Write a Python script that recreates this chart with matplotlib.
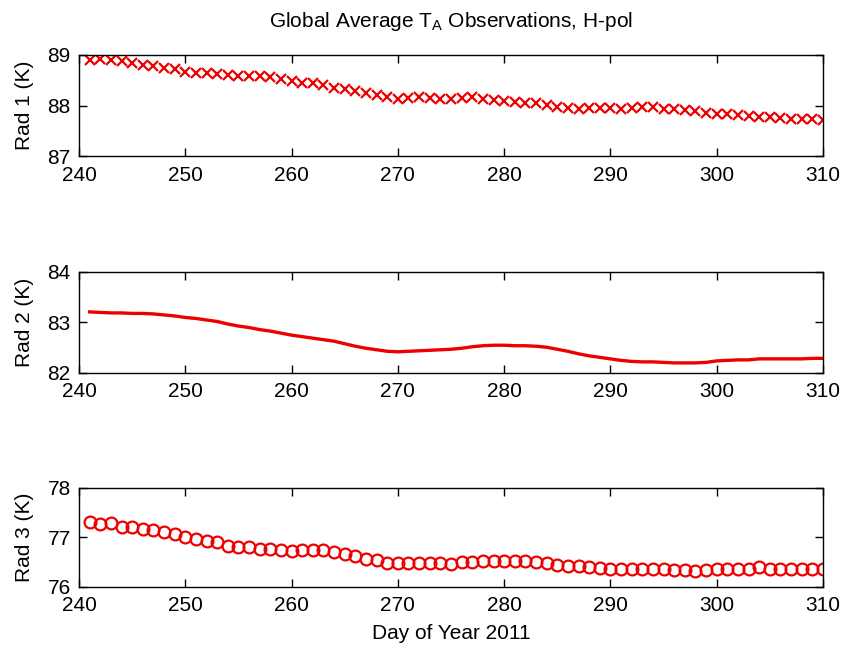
import matplotlib
matplotlib.use("Agg")
import matplotlib.pyplot as plt
import numpy as np

plt.rcParams['font.family'] = ['Liberation Sans', 'DejaVu Sans']

days = list(range(241, 311))

rad1 = [88.90, 88.93, 88.91, 88.88, 88.85, 88.80, 88.78, 88.75, 88.72, 88.67,
        88.65, 88.64, 88.62, 88.60, 88.58, 88.58, 88.59, 88.57, 88.52, 88.48,
        88.45, 88.45, 88.41, 88.35, 88.32, 88.29, 88.24, 88.20, 88.16, 88.13,
        88.14, 88.16, 88.15, 88.12, 88.12, 88.14, 88.17, 88.13, 88.11, 88.09,
        88.06, 88.04, 88.04, 88.01, 87.97, 87.95, 87.94, 87.95, 87.95, 87.95,
        87.94, 87.95, 87.97, 87.98, 87.94, 87.93, 87.91, 87.89, 87.86, 87.83,
        87.83, 87.81, 87.79, 87.78, 87.77, 87.75, 87.74, 87.74, 87.73, 87.71]

rad2 = [83.20, 83.19, 83.18, 83.18, 83.17, 83.17, 83.16, 83.14, 83.12, 83.09,
        83.07, 83.04, 83.01, 82.96, 82.92, 82.89, 82.85, 82.82, 82.78, 82.74,
        82.71, 82.68, 82.65, 82.62, 82.57, 82.52, 82.48, 82.45, 82.42, 82.41,
        82.42, 82.43, 82.44, 82.45, 82.46, 82.48, 82.51, 82.53, 82.54, 82.54,
        82.53, 82.53, 82.52, 82.50, 82.46, 82.42, 82.37, 82.33, 82.30, 82.27,
        82.24, 82.22, 82.21, 82.21, 82.20, 82.19, 82.19, 82.19, 82.20, 82.23,
        82.24, 82.25, 82.25, 82.27, 82.27, 82.27, 82.27, 82.27, 82.28, 82.28]

rad3 = [77.30, 77.27, 77.28, 77.21, 77.20, 77.16, 77.14, 77.10, 77.07, 77.01,
        76.97, 76.93, 76.90, 76.83, 76.80, 76.80, 76.77, 76.76, 76.73, 76.72,
        76.73, 76.73, 76.73, 76.70, 76.66, 76.61, 76.55, 76.53, 76.48, 76.48,
        76.48, 76.48, 76.48, 76.47, 76.46, 76.49, 76.50, 76.51, 76.51, 76.51,
        76.51, 76.51, 76.50, 76.48, 76.44, 76.42, 76.42, 76.40, 76.38, 76.36,
        76.35, 76.35, 76.35, 76.35, 76.35, 76.33, 76.33, 76.32, 76.33, 76.35,
        76.35, 76.35, 76.36, 76.39, 76.36, 76.35, 76.35, 76.35, 76.35, 76.35]

x_ticks = [240, 250, 260, 270, 280, 290, 300, 310]
ylabels = ['Rad 1 (K)', 'Rad 2 (K)', 'Rad 3 (K)']
ylims = [(87, 89), (82, 84), (76, 78)]
yticks = [[87, 88, 89], [82, 83, 84], [76, 77, 78]]

fig = plt.figure(figsize=(8.42, 6.5), dpi=100)
left = 79 / 842
width = (823 - 79) / 842
tops = [55, 271.5, 487.5]
bots = [156, 372.5, 586.7]
axes = []
for t, b in zip(tops, bots):
    ax = fig.add_axes([left, 1 - b / 650, width, (b - t) / 650])
    axes.append(ax)

red = '#ee0000'
axes[0].plot(days, rad1, linestyle='none', marker='x', color=red,
             markersize=7, markeredgewidth=1.6)
axes[1].plot(days, rad2, color=red, linewidth=2.4)
axes[2].plot(days, rad3, linestyle='none', marker='o', markerfacecolor='none',
             markeredgecolor=red, markersize=8.5, markeredgewidth=1.6)

fs = 15
for ax, lab, yl, yt in zip(axes, ylabels, ylims, yticks):
    ax.set_xlim(240, 310)
    ax.set_ylim(*yl)
    ax.set_xticks(x_ticks)
    ax.set_yticks(yt)
    ax.tick_params(direction='in', length=6, width=1, top=True, right=True,
                   labelsize=fs)
    ax.tick_params(axis='x', pad=7)
    ax.tick_params(axis='y', pad=6)
    for s in ax.spines.values():
        s.set_linewidth(1.0)
    ax.set_ylabel(lab, fontsize=fs, labelpad=10)

axes[0].set_title(r'Global Average T$_\mathregular{A}$ Observations, H-pol',
                  fontsize=fs, pad=20)
axes[2].set_xlabel('Day of Year 2011', fontsize=fs, labelpad=6)
fig.align_ylabels(axes)

fig.savefig('out.png', dpi=100, facecolor='white')
